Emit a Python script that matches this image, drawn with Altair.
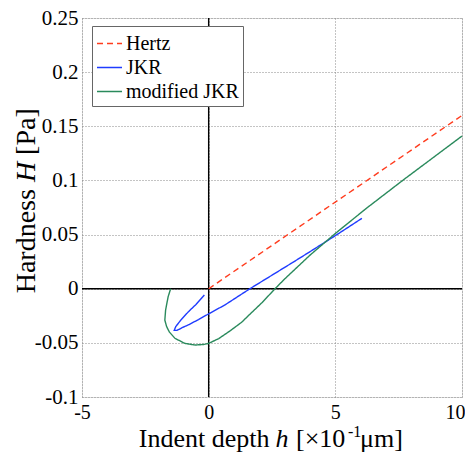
import altair as alt
import pandas as pd

# ---- data ----
series_names = ["Hertz", "JKR", "modified JKR"]
series_colors = ["#ff3c1e", "#1f3cff", "#2a8a5c"]

hertz_h = [0.0, 10.0]
hertz_H = [0.0, 0.16]

jkr_h = [-0.17, -0.5, -0.81, -1.1, -1.3, -1.36, -1.25, -1.05, -0.81, -0.4, 0.0,
         0.64, 1.63, 2.5, 3.3, 4.0, 5.0, 6.05]
jkr_H = [-0.0058, -0.0145, -0.0215, -0.029, -0.035, -0.0385, -0.0385, -0.036,
         -0.0335, -0.0285, -0.0232, -0.015, 0.0, 0.0125, 0.024, 0.0342, 0.049, 0.065]

mjkr_h = [-1.50, -1.60, -1.70, -1.73, -1.66, -1.55, -1.33, -0.94, -0.54, -0.2, 0.0,
          0.4, 0.84, 1.3, 1.63, 2.1, 2.62, 3.0, 3.5, 4.0, 4.5, 5.0, 5.5, 6.24,
          7.68, 8.8, 10.0]
mjkr_H = [0.0, -0.0074, -0.0197, -0.029, -0.035, -0.040, -0.0458, -0.0505, -0.052,
          -0.0515, -0.0505, -0.046, -0.039, -0.031, -0.0235, -0.013, 0.0, 0.009,
          0.02, 0.031, 0.041, 0.051, 0.0605, 0.0745, 0.1004, 0.120, 0.141]

x_ticks = [-5, 0, 5, 10]
y_ticks = [-0.1, -0.05, 0, 0.05, 0.1, 0.15, 0.2, 0.25]

# axis title pieces (plain / italic / superscript)
x_title_parts = ["Indent depth", "h", "[×10", "-1", "μm]"]
y_title_parts = ["Hardness", "H", "[Pa]"]

rows = []
for name, hs, Hs in [("Hertz", hertz_h, hertz_H), ("JKR", jkr_h, jkr_H),
                     ("modified JKR", mjkr_h, mjkr_H)]:
    for i, (a, b) in enumerate(zip(hs, Hs)):
        rows.append({"series": name, "h": a, "H": b, "i": i})
df = pd.DataFrame(rows)

FONT = "Liberation Serif"

xs = alt.Scale(domain=[-5, 10], nice=False, zero=False)
ys = alt.Scale(domain=[-0.1, 0.25], nice=False, zero=False)

x_axis = alt.Axis(values=x_ticks, title=None, grid=True,
                  gridDash=[1, 2], gridColor="#888", gridWidth=1, ticks=False,
                  domain=False, labelFont=FONT, labelFontSize=20, labelColor="black",
                  labelPadding=5, labelExpr="'' + datum.value", labelFlush=False,
                  labelAlign={"expr": "datum.value == 10 ? 'right' : 'center'"},
                  labelOffset={"expr": "datum.value == 10 ? 3 : 0"})
y_axis = alt.Axis(values=y_ticks, title=None, grid=True,
                  gridDash=[1, 2], gridColor="#888", gridWidth=1, ticks=False,
                  domain=False, labelFont=FONT, labelFontSize=21, labelColor="black",
                  labelPadding=4, labelExpr="'' + datum.value")

legend = alt.Legend(title=None, orient="none", legendX=10, legendY=8,
                    fillColor="white", strokeColor="#666", padding=4,
                    symbolType="stroke", symbolSize=625, symbolStrokeWidth=1.5,
                    labelFont=FONT, labelFontSize=20, labelColor="black",
                    labelOffset=3, rowPadding=0)

base = alt.Chart(df)

lines = base.mark_line(strokeWidth=1.4).encode(
    x=alt.X("h:Q", scale=xs, axis=x_axis),
    y=alt.Y("H:Q", scale=ys, axis=y_axis),
    color=alt.Color("series:N",
                    scale=alt.Scale(domain=series_names, range=series_colors),
                    sort=series_names, legend=legend),
    strokeDash=alt.StrokeDash("series:N",
                              scale=alt.Scale(domain=series_names,
                                              range=[[6, 4], [1, 0], [1, 0]]),
                              sort=series_names, legend=legend),
    order="i:Q",
)

zero_df = pd.DataFrame({"h": [0.0], "H": [0.0]})
vrule = alt.Chart(zero_df).mark_rule(color="black", strokeWidth=1.4).encode(
    x=alt.X("h:Q", scale=xs))
hrule = alt.Chart(zero_df).mark_rule(color="black", strokeWidth=1.4).encode(
    y=alt.Y("H:Q", scale=ys))


def label(txt, px, py, size, align, italic=False, angle=0, baseline="alphabetic"):
    kw = dict(text=txt, font=FONT, fontSize=size, color="black", align=align,
              baseline=baseline)
    if italic:
        kw["fontStyle"] = "italic"
    if angle:
        kw["angle"] = angle
    return alt.Chart(zero_df).mark_text(**kw).encode(
        x=alt.value(px), y=alt.value(py))


XS = 26
xb = 429          # baseline of x title (relative to plot top)
hx = 200          # centre of italic h
xt = [
    label(x_title_parts[0], hx - 12.5, xb, XS, "right"),
    label(x_title_parts[1], hx, xb, XS, "center", italic=True),
    label(x_title_parts[2], hx + 14, xb, XS, "left"),
    label(x_title_parts[3], hx + 14 + 52, xb - 10, 16, "left"),
    label(x_title_parts[4], hx + 14 + 52 + 12, xb, XS, "left"),
]

YS = 28
yb = -47          # baseline of rotated y title (relative to plot left)
hy = 154          # centre of italic H
yt = [
    label(y_title_parts[0], yb, hy + 10.1 + 7, YS, "right", angle=270),
    label(y_title_parts[1], yb, hy, YS, "center", italic=True, angle=270),
    label(y_title_parts[2], yb, hy - 10.1 - 7, YS, "left", angle=270),
]

chart = alt.layer(vrule, hrule, lines, *xt, *yt).properties(
    width=380, height=379,
    autosize=alt.AutoSizeParams(type="none"),
    padding={"left": 74, "top": 10, "right": 3, "bottom": 55},
).configure_view(
    stroke="#444", strokeWidth=1.2
).configure_axis(
    labelFont=FONT, titleFont=FONT
).configure(background="white")

chart.save("out.html", embed_options={"renderer": "svg", "actions": False})
